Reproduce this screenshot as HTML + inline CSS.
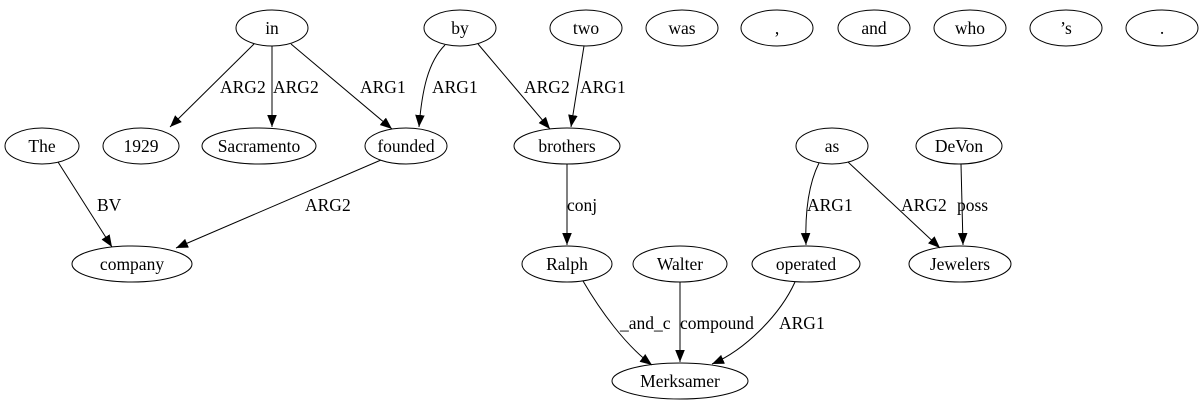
<!DOCTYPE html>
<html><head><meta charset="utf-8"><style>
html,body{margin:0;padding:0;background:#fff;}
svg{display:block;}
text{font-family:"Liberation Serif",serif;font-size:17.5px;fill:#000;}
</style></head><body>
<svg width="1204" height="411" viewBox="0 0 1204 411" xmlns="http://www.w3.org/2000/svg">
<defs><marker id="a" viewBox="0 0 10 10" refX="10" refY="5" markerWidth="12" markerHeight="12" markerUnits="userSpaceOnUse" orient="auto"><path d="M0,1 L10,5 L0,9 z" fill="#000"/></marker></defs>
<g fill="none" stroke="#000" stroke-width="1">
<ellipse cx="272" cy="28" rx="36" ry="18"/>
<ellipse cx="460" cy="28" rx="36" ry="18"/>
<ellipse cx="586" cy="28" rx="36" ry="18"/>
<ellipse cx="682" cy="28" rx="36" ry="18"/>
<ellipse cx="777" cy="28" rx="36" ry="18"/>
<ellipse cx="874" cy="28" rx="36" ry="18"/>
<ellipse cx="970" cy="28" rx="36" ry="18"/>
<ellipse cx="1066" cy="28" rx="36" ry="18"/>
<ellipse cx="1162" cy="28" rx="36" ry="18"/>
<ellipse cx="42" cy="146" rx="37" ry="18"/>
<ellipse cx="141" cy="146" rx="38" ry="18"/>
<ellipse cx="259" cy="146" rx="57" ry="18"/>
<ellipse cx="406" cy="146" rx="41" ry="18"/>
<ellipse cx="567" cy="146" rx="53" ry="18"/>
<ellipse cx="832" cy="146" rx="36" ry="18"/>
<ellipse cx="959" cy="146" rx="43" ry="18"/>
<ellipse cx="132" cy="264" rx="60" ry="18"/>
<ellipse cx="567" cy="264" rx="45" ry="18"/>
<ellipse cx="680" cy="264" rx="47" ry="18"/>
<ellipse cx="806" cy="264" rx="54" ry="18"/>
<ellipse cx="960" cy="264" rx="51" ry="18"/>
<ellipse cx="680" cy="381" rx="68" ry="18"/>
</g>
<g fill="none" stroke="#000" stroke-width="1" marker-end="url(#a)">
<path d="M254,44 L170,127"/>
<path d="M272,46 L272,127"/>
<path d="M291,44 L392,129"/>
<path d="M445,45 C428,62 422,90 419,127"/>
<path d="M478,44 L550,129"/>
<path d="M584,46 L571,127"/>
<path d="M58,162 L112,247"/>
<path d="M381,160 L176,248"/>
<path d="M567,164 L567,245"/>
<path d="M819,163 C808,185 805,215 806,245"/>
<path d="M848,162 L940,248"/>
<path d="M961,164 L963,245"/>
<path d="M583,281 C600,310 625,345 652,365"/>
<path d="M680,282 L680,362"/>
<path d="M795,282 C780,315 745,350 712,364"/>
</g>
<g text-anchor="middle">
<text x="272" y="34">in</text>
<text x="460" y="34">by</text>
<text x="586" y="34">two</text>
<text x="682" y="34">was</text>
<text x="777" y="34">,</text>
<text x="874" y="34">and</text>
<text x="970" y="34">who</text>
<text x="1066" y="34">’s</text>
<text x="1162" y="34">.</text>
<text x="42" y="152">The</text>
<text x="141" y="152">1929</text>
<text x="259" y="152">Sacramento</text>
<text x="406" y="152">founded</text>
<text x="567" y="152">brothers</text>
<text x="832" y="152">as</text>
<text x="959" y="152">DeVon</text>
<text x="132" y="270">company</text>
<text x="567" y="270">Ralph</text>
<text x="680" y="270">Walter</text>
<text x="806" y="270">operated</text>
<text x="960" y="270">Jewelers</text>
<text x="680" y="387">Merksamer</text>
</g>
<g>
<text x="220" y="93">ARG2</text>
<text x="273" y="93">ARG2</text>
<text x="360" y="93">ARG1</text>
<text x="432" y="93">ARG1</text>
<text x="524" y="93">ARG2</text>
<text x="580" y="93">ARG1</text>
<text x="97" y="211">BV</text>
<text x="305" y="211">ARG2</text>
<text x="567" y="211">conj</text>
<text x="807" y="211">ARG1</text>
<text x="901" y="211">ARG2</text>
<text x="957" y="211">poss</text>
<text x="620" y="329">_and_c</text>
<text x="680" y="329">compound</text>
<text x="779" y="329">ARG1</text>
</g>
</svg>
</body></html>
